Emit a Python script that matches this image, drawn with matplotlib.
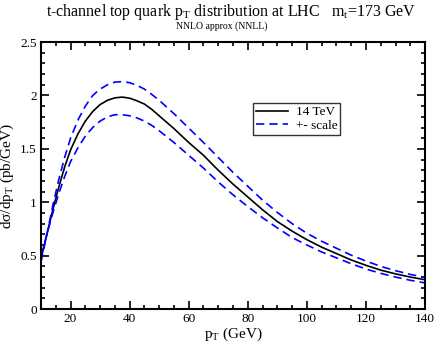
import matplotlib
matplotlib.use('Agg')
import matplotlib.pyplot as plt
from matplotlib.ticker import MultipleLocator, FuncFormatter

plt.rcParams['font.family'] = 'Liberation Serif'
plt.rcParams['mathtext.fontset'] = 'custom'
plt.rcParams['mathtext.rm'] = 'Liberation Serif'
plt.rcParams['mathtext.it'] = 'Liberation Serif:italic'

# pT grid (GeV) and d sigma / d pT (pb/GeV)
pt = [10, 12, 14, 16, 18, 20, 22.5, 25, 27.5, 30, 32.5, 35, 37.5, 40, 42.5, 45, 47.5, 50,
      55, 60, 65, 70, 75, 80, 85, 90, 95, 100, 105, 110, 115, 120, 125, 130, 135, 140]
central = [0.47, 0.70, 0.93, 1.14, 1.33, 1.49, 1.64, 1.76, 1.85, 1.915, 1.955, 1.978, 1.985,
           1.975, 1.95, 1.92, 1.87, 1.81, 1.69, 1.56, 1.44, 1.30, 1.17, 1.05, 0.93, 0.82,
           0.73, 0.65, 0.58, 0.52, 0.46, 0.41, 0.365, 0.33, 0.30, 0.275]
upper = [0.44, 0.70, 0.97, 1.21, 1.42, 1.60, 1.77, 1.90, 2.00, 2.06, 2.10, 2.125, 2.13,
         2.12, 2.095, 2.06, 2.01, 1.955, 1.83, 1.695, 1.56, 1.42, 1.28, 1.15, 1.02, 0.905,
         0.80, 0.71, 0.635, 0.57, 0.505, 0.45, 0.40, 0.36, 0.325, 0.297]
lower = [0.50, 0.70, 0.90, 1.08, 1.24, 1.38, 1.51, 1.62, 1.70, 1.76, 1.80, 1.82, 1.82,
         1.81, 1.79, 1.76, 1.72, 1.67, 1.56, 1.44, 1.32, 1.19, 1.07, 0.96, 0.855, 0.76,
         0.67, 0.60, 0.535, 0.48, 0.425, 0.375, 0.335, 0.30, 0.27, 0.245]

fig = plt.figure(figsize=(4.36, 3.45), dpi=100)
ax = fig.add_axes([0.094, 0.104, 0.881, 0.774])

ax.plot(pt, central, color='black', lw=1.2, label='14 TeV')
ax.plot(pt, upper, color='#0000ff', lw=1.2, dashes=(5, 3), label='+- scale')
ax.plot(pt, lower, color='#0000ff', lw=1.2, dashes=(5, 3))

ax.set_xlim(10, 140)
ax.set_ylim(0, 2.5)
ax.xaxis.set_major_locator(MultipleLocator(20))
ax.xaxis.set_minor_locator(MultipleLocator(5))
ax.yaxis.set_major_locator(MultipleLocator(0.5))
ax.yaxis.set_minor_locator(MultipleLocator(0.1))
ax.yaxis.set_major_formatter(FuncFormatter(lambda v, p: '%g' % v))
ax.tick_params(which='both', direction='in', top=True, right=True, labelsize=9.5, width=1.2)
ax.tick_params(which='major', length=6, pad=3)
ax.tick_params(which='minor', length=3)
for s in ax.spines.values():
    s.set_linewidth(1.5)

ax.set_xlabel('p$_\\mathrm{T}$ (GeV)', fontsize=11, labelpad=0)
ax.set_ylabel('d\u03c3/dp$_\\mathrm{T}$ (pb/GeV)', fontsize=11, labelpad=3)

leg = ax.legend(loc='upper left', bbox_to_anchor=(0.551, 0.773), fontsize=9.5,
                frameon=True, fancybox=False, borderaxespad=0, handlelength=2.4,
                borderpad=0.25, labelspacing=0.1, handletextpad=0.6)
leg.get_frame().set_edgecolor('black')
leg.get_frame().set_linewidth(1.0)

fig.text(0.53, 0.965, 't-channel top quark p$_\\mathrm{T}$ distribution at LHC   m$_\\mathrm{t}$=173 GeV',
         ha='center', va='center', fontsize=11.5)
fig.text(0.508, 0.923, 'NNLO approx (NNLL)', ha='center', va='center', fontsize=7)

fig.savefig('out.png', dpi=100)
